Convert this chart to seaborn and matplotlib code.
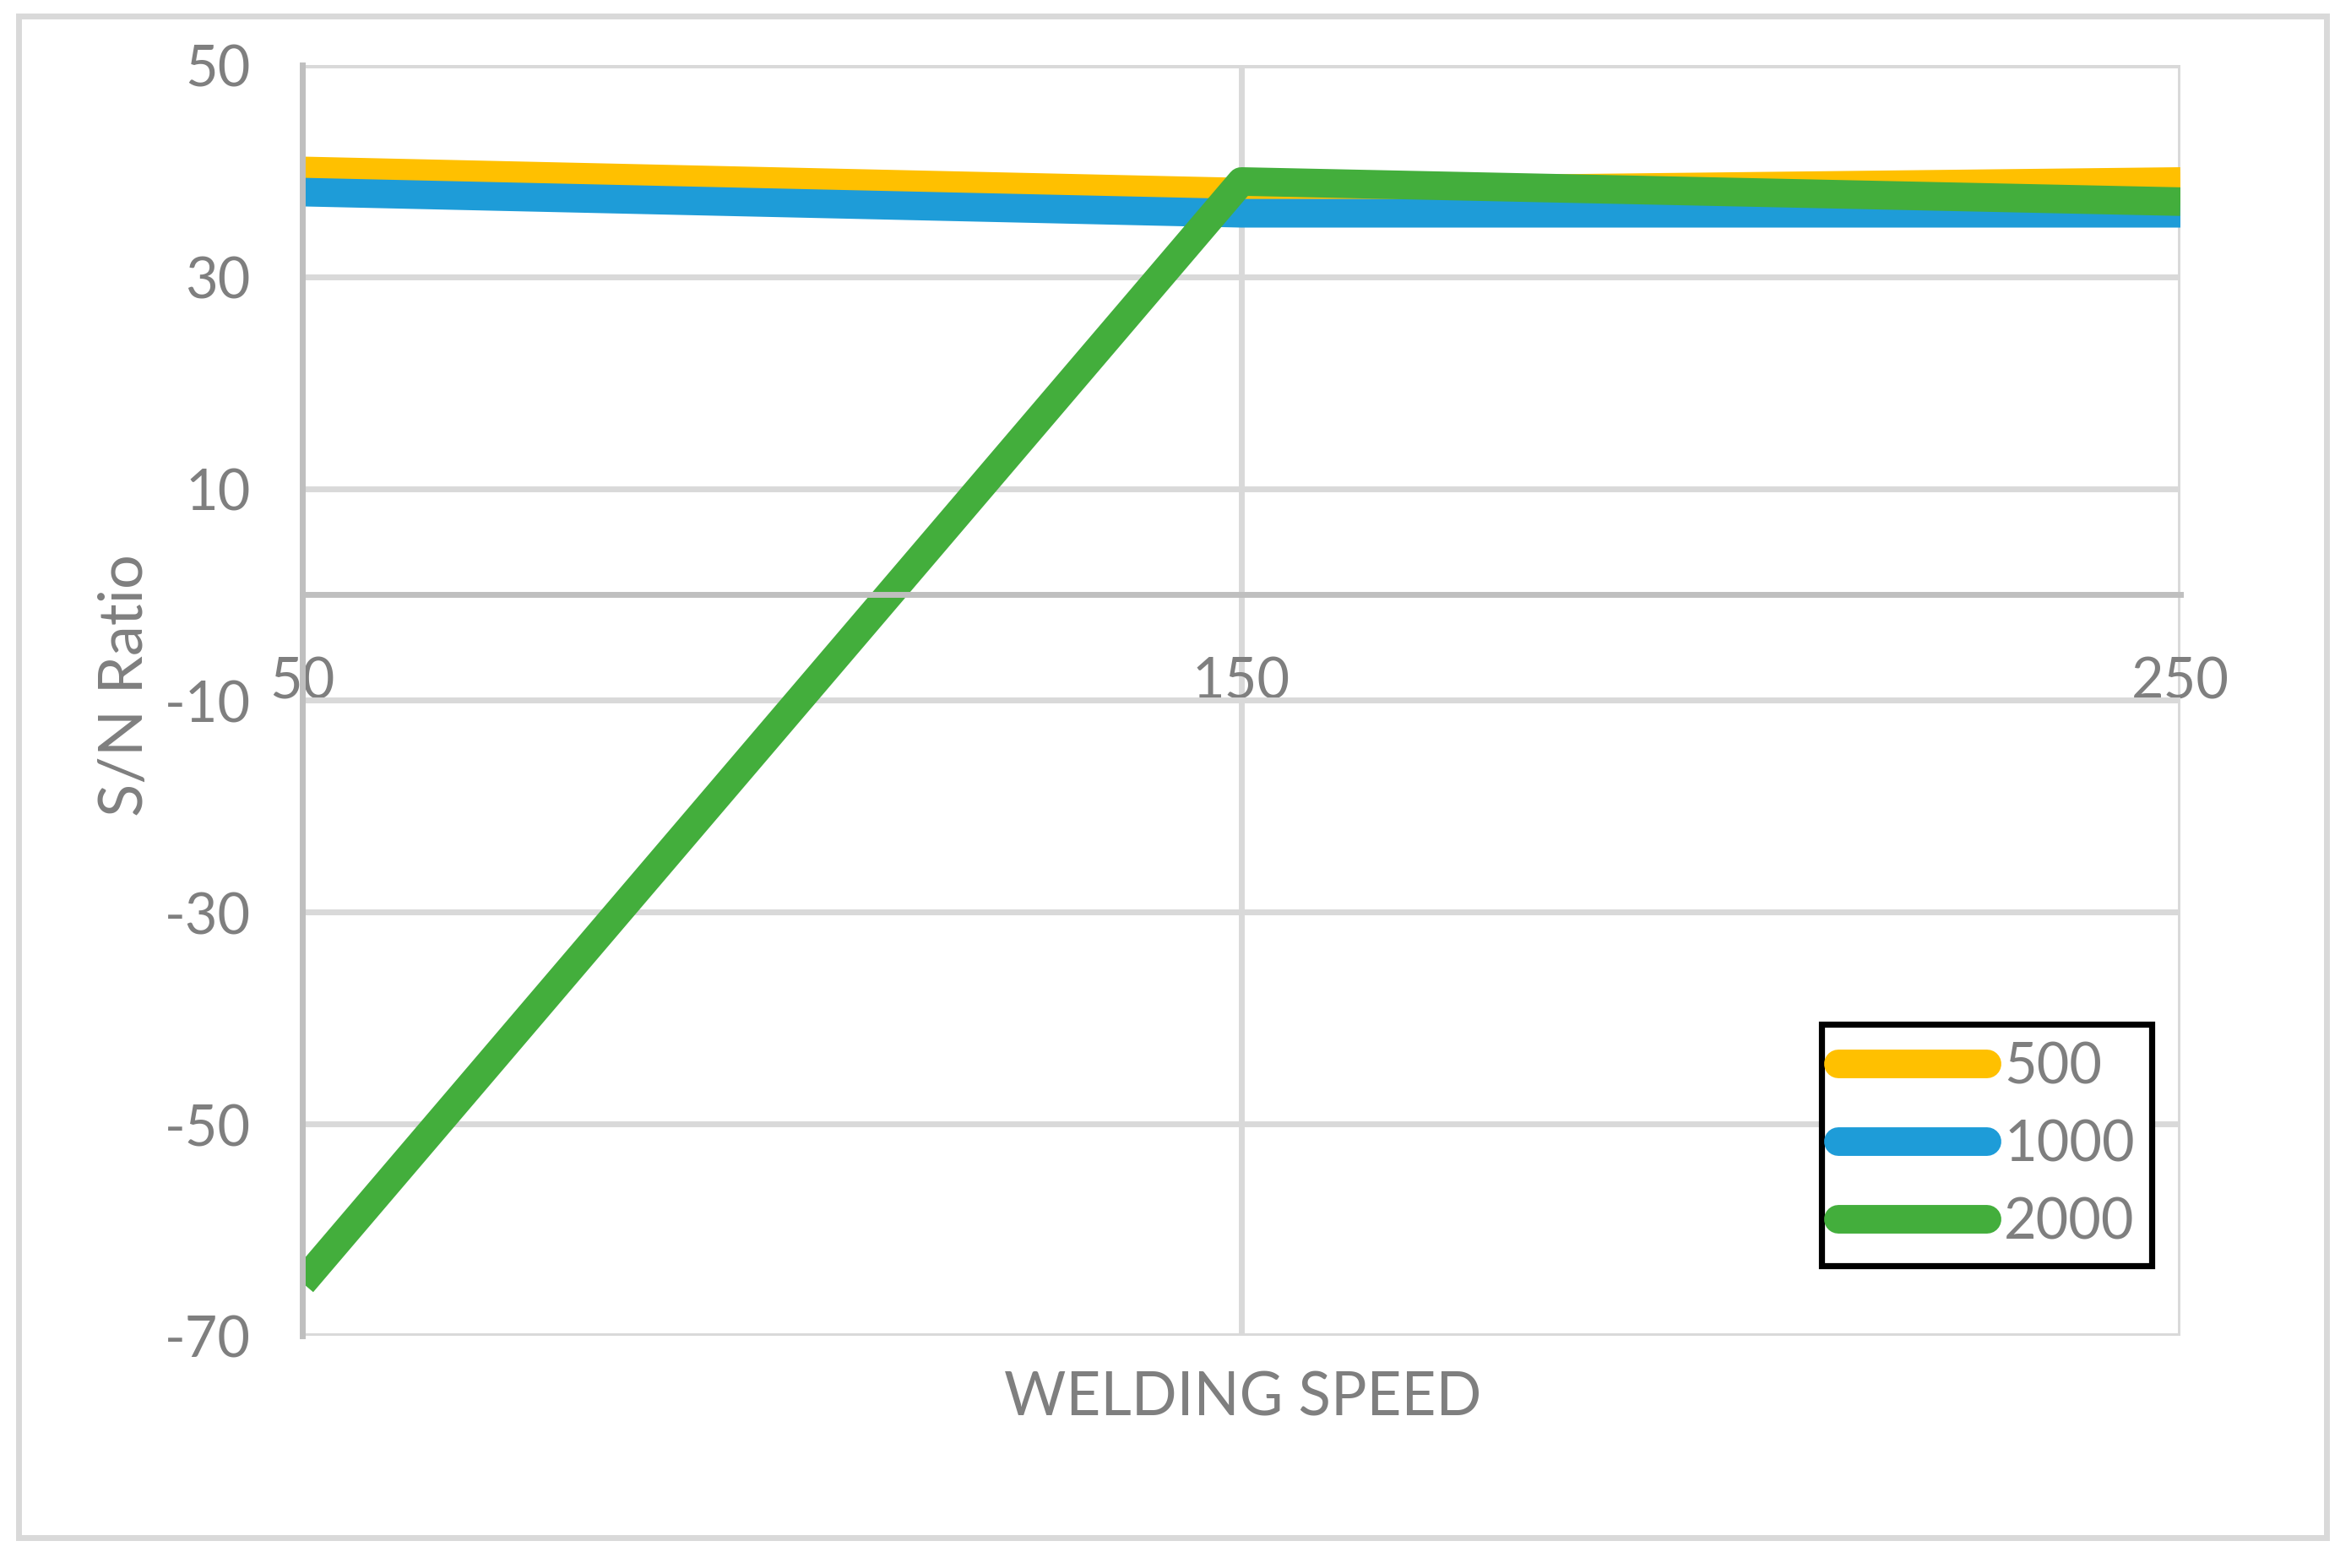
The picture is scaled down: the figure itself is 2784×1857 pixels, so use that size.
import numpy as np
import pandas as pd
import matplotlib
matplotlib.use('Agg')
import matplotlib.pyplot as plt
import seaborn as sns
from matplotlib.patches import Rectangle
from matplotlib.lines import Line2D

# data
welding_speed = [50, 150, 250]
sn_500 = [40.0, 38.0, 39.0]
sn_1000 = [38.0, 36.0, 36.0]
sn_2000 = [-65.0, 39.0, 37.1]
series_names = ['500', '1000', '2000']
y_ticks = [-70, -50, -30, -10, 10, 30, 50]

colors = ['#FFC000', '#1E9CD8', '#43AE3C']
text_gray = '#7F7F7F'

sns.set_style('white')
plt.rcParams['font.family'] = ['Lato', 'DejaVu Sans']
plt.rcParams['axes.unicode_minus'] = False

df = pd.DataFrame({
    'speed': welding_speed * 3,
    'sn': sn_500 + sn_1000 + sn_2000,
    'series': sum([[n] * len(welding_speed) for n in series_names], []),
})

fig = plt.figure(figsize=(13.92, 9.29), dpi=200)
ax = fig.add_axes([358 / 2784, 1 - 1583 / 1858, (2582 - 358) / 2784, (1583 - 78) / 1858])

sns.lineplot(data=df, x='speed', y='sn', hue='series', hue_order=series_names,
             palette=colors, linewidth=12.2, ax=ax, legend=False, sort=False)
for ln in ax.lines:
    ln.set_solid_joinstyle('round')
    ln.set_solid_capstyle('butt')

ax.set_xlim(50, 250)
ax.set_ylim(-70, 50)
ax.set_yticks(y_ticks)
ax.set_xticks(welding_speed)
ax.set_xticklabels([str(v) for v in welding_speed])
ax.grid(True, color='#D9D9D9', linewidth=2.5)
ax.set_axisbelow(True)
ax.tick_params(axis='both', length=0, labelsize=24, labelcolor=text_gray)
ax.tick_params(axis='y', pad=22)
ax.tick_params(axis='x', pad=26)

ax.spines['top'].set_visible(False)
ax.spines['right'].set_visible(False)
ax.spines['bottom'].set_position(('data', 0))
ax.spines['bottom'].set_color('#BFBFBF')
ax.spines['bottom'].set_linewidth(2.5)
ax.spines['left'].set_color('#BFBFBF')
ax.spines['left'].set_linewidth(2.5)
ax.set_xlabel('')
ax.set_ylabel('')

fig.text(1472 / 2784, 1 - 1656 / 1858, 'WELDING SPEED', ha='center', va='center',
         fontsize=25.5, color=text_gray)
fig.text(148 / 2784, 1 - 812 / 1858, 'S/N Ratio', ha='center', va='center',
         rotation=90, fontsize=26, color=text_gray)

handles = [Line2D([0], [0], color=c, linewidth=12.2, solid_capstyle='round') for c in colors]
leg = ax.legend(handles, series_names, loc='lower right',
                bbox_to_anchor=((2548 - 358) / (2582 - 358), (1583 - 1500) / (1583 - 78)),
                fontsize=24, labelcolor=text_gray, frameon=True, fancybox=False,
                framealpha=1, handlelength=2.65, handletextpad=0.3, borderpad=0.3,
                labelspacing=0.45, borderaxespad=0)
leg.get_frame().set_edgecolor('black')
leg.get_frame().set_linewidth(2.6)

fig.patches.append(Rectangle((22 / 2784, 1 - 1822 / 1858), (2755 - 22) / 2784, (1822 - 20) / 1858,
                             transform=fig.transFigure, fill=False, edgecolor='#D9D9D9',
                             linewidth=2.5))

fig.savefig('out.png', dpi=200, facecolor='white')
